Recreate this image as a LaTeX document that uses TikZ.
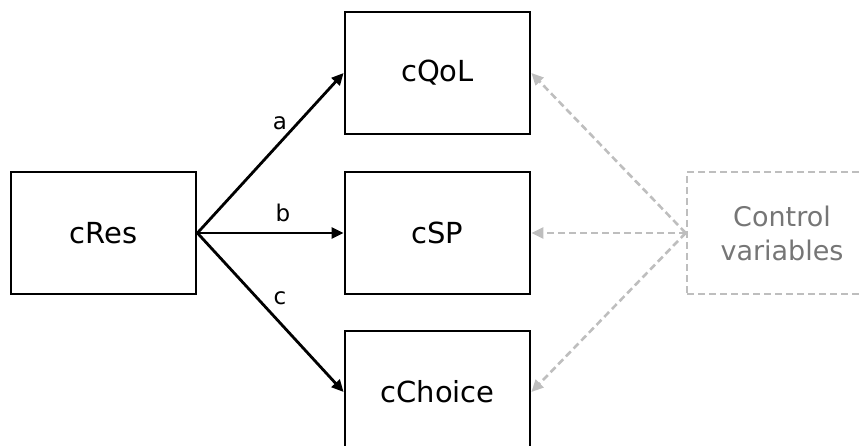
\documentclass[tikz,border=0pt]{standalone}
\usepackage{fontspec}
\setmainfont{DejaVu Sans}
\usetikzlibrary{arrows.meta}
\definecolor{ctrlline}{RGB}{190,190,190}
\definecolor{ctrltext}{RGB}{118,118,118}
\begin{document}
\begin{tikzpicture}[x=1pt,y=-1pt,
  varbox/.style={draw=black,line width=2.8pt,minimum width=185pt,minimum height=122pt,
    inner sep=0pt,font=\fontsize{29}{34}\selectfont},
  ctrlbox/.style={draw=ctrlline,line width=2.6pt,dash pattern=on 7pt off 4pt,
    minimum width=190pt,minimum height=122pt,inner sep=0pt,align=center,
    text=ctrltext,font=\fontsize{27}{34}\selectfont},
  path/.style={draw=black,line width=2.8pt,-{Triangle[length=12pt,width=11pt]}},
  ctrlpath/.style={draw=ctrlline,line width=2.6pt,dash pattern=on 7pt off 4pt,
    -{Triangle[length=12pt,width=11pt]}},
  lbl/.style={font=\fontsize{23}{27}\selectfont,inner sep=0pt}]
\useasboundingbox (0,0) rectangle (861,446);
\clip (0,0) rectangle (861,446);
% boxes
\node[varbox] (res) at (103.5,233) {cRes};
\node[varbox] (qol) at (437.5,73) {cQoL};
\node[varbox] (sp) at (437.5,233) {cSP};
\node[varbox] (choice) at (437.5,392) {cChoice};
\node[ctrlbox] (ctrl) at (782,233) {Control\\variables};
% effects of cRes
\draw[path] (res.east) -- (qol.west);
\draw[path] (res.east) -- (sp.west);
\draw[path] (res.east) -- (choice.west);
\node[lbl] (la) at (280,123) {a};
\node[lbl] (lb) at (283,213) {b};
\node[lbl] (lc) at (280,298) {c};
% control variables
\draw[ctrlpath] (ctrl.west) -- (qol.east);
\draw[ctrlpath] (ctrl.west) -- (sp.east);
\draw[ctrlpath] (ctrl.west) -- (choice.east);
\end{tikzpicture}
\end{document}
